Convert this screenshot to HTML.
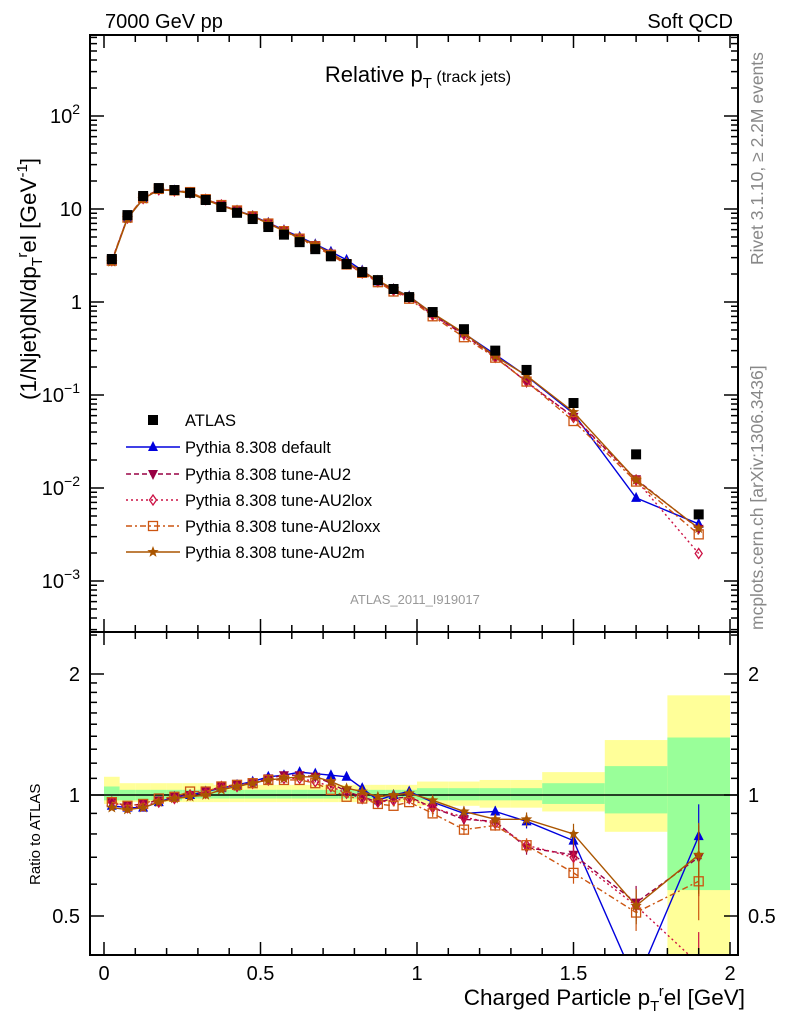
<!DOCTYPE html>
<html><head><meta charset="utf-8"><style>
body{margin:0;background:#fff;}
svg text{font-family:"Liberation Sans",sans-serif;}
</style></head><body>
<svg id="chart" width="786" height="1024" xmlns="http://www.w3.org/2000/svg">
<g id="bands"></g>
<g id="marks"></g>
<g id="axes"></g>
<text x="105" y="28" font-size="20">7000 GeV pp</text>
<text x="733" y="28" font-size="20" text-anchor="end">Soft QCD</text>
<text x="418" y="82" font-size="22" text-anchor="middle">Relative p<tspan font-size="15" dy="6">T</tspan><tspan font-size="16" dy="-6"> (track jets)</tspan></text>
<text x="415" y="604" font-size="13" fill="#999" text-anchor="middle">ATLAS_2011_I919017</text>
<text transform="translate(763,265) rotate(-90)" font-size="17.5" fill="#888">Rivet 3.1.10, ≥ 2.2M events</text>
<text transform="translate(763,630) rotate(-90)" font-size="17.5" fill="#888">mcplots.cern.ch [arXiv:1306.3436]</text>
<text transform="translate(36,400) rotate(-90)" font-size="22.5">(1/Njet)dN/dp<tspan font-size="15" dy="6">T</tspan><tspan font-size="15" dy="-15">r</tspan><tspan dy="9">el [GeV</tspan><tspan font-size="15" dy="-9">-1</tspan><tspan dy="9">]</tspan></text>
<text transform="translate(40,885) rotate(-90)" font-size="15">Ratio to ATLAS</text>
<text x="745" y="1005" font-size="22.5" text-anchor="end">Charged Particle p<tspan font-size="15" dy="6">T</tspan><tspan font-size="15" dy="-15">r</tspan><tspan dy="9">el [GeV]</tspan></text>
<g id="legend"></g>
</svg>
<script>
const xCenters=[0.025,0.075,0.125,0.175,0.225,0.275,0.325,0.375,0.425,0.475,0.525,0.575,0.625,0.675,0.725,0.775,0.825,0.875,0.925,0.975,1.05,1.15,1.25,1.35,1.5,1.7,1.9];
const binLo=[0,0.05,0.1,0.15,0.2,0.25,0.3,0.35,0.4,0.45,0.5,0.55,0.6,0.65,0.7,0.75,0.8,0.85,0.9,0.95,1.0,1.1,1.2,1.3,1.4,1.6,1.8];
const binHi=[0.05,0.1,0.15,0.2,0.25,0.3,0.35,0.4,0.45,0.5,0.55,0.6,0.65,0.7,0.75,0.8,0.85,0.9,0.95,1.0,1.1,1.2,1.3,1.4,1.6,1.8,2.0];
const atlas=[2.9,8.6,13.8,16.8,16,14.9,12.5,10.5,9.1,7.8,6.4,5.3,4.4,3.7,3.1,2.56,2.1,1.72,1.38,1.13,0.78,0.51,0.30,0.186,0.082,0.023,0.0052];
const statHi=[1.05,1.03,1.03,1.03,1.03,1.03,1.03,1.03,1.03,1.03,1.03,1.03,1.03,1.03,1.03,1.03,1.03,1.03,1.03,1.03,1.04,1.04,1.04,1.04,1.07,1.18,1.39];
const statLo=[0.97,0.97,0.97,0.97,0.97,0.98,0.98,0.98,0.98,0.98,0.98,0.98,0.98,0.98,0.98,0.98,0.98,0.98,0.98,0.98,0.97,0.97,0.97,0.97,0.95,0.90,0.58];
const totHi=[1.11,1.07,1.07,1.07,1.07,1.07,1.07,1.06,1.06,1.06,1.06,1.06,1.06,1.06,1.06,1.06,1.06,1.06,1.06,1.06,1.08,1.08,1.09,1.09,1.14,1.37,1.77];
const totLo=[0.95,0.96,0.96,0.96,0.96,0.96,0.96,0.96,0.96,0.96,0.96,0.96,0.96,0.96,0.96,0.96,0.96,0.96,0.96,0.96,0.94,0.94,0.93,0.93,0.91,0.81,0.38];
const rDefault=[0.94,0.93,0.93,0.96,0.99,1.0,1.02,1.04,1.06,1.08,1.11,1.12,1.14,1.13,1.12,1.11,1.04,0.97,1.0,1.02,0.96,0.90,0.91,0.86,0.77,0.34,0.79];
const rAU2=[0.96,0.94,0.95,0.97,0.99,1.0,1.02,1.05,1.06,1.07,1.10,1.12,1.12,1.11,1.07,1.02,0.99,0.96,0.98,0.99,0.93,0.87,0.86,0.74,0.71,0.54,0.70];
const rAU2lox=[0.96,0.93,0.94,0.96,0.98,1.0,1.01,1.05,1.05,1.07,1.09,1.10,1.10,1.08,1.05,1.01,0.98,0.96,0.97,0.98,0.93,0.88,0.85,0.75,0.70,0.53,0.38];
const rAU2loxx=[0.96,0.94,0.95,0.98,0.99,1.02,1.02,1.05,1.06,1.07,1.09,1.09,1.09,1.07,1.03,0.99,0.98,0.95,0.94,0.96,0.90,0.82,0.84,0.75,0.64,0.51,0.61];
const rAU2m=[0.93,0.92,0.93,0.96,0.98,0.99,1.0,1.03,1.05,1.07,1.09,1.10,1.11,1.11,1.08,1.04,1.02,0.99,1.0,1.01,0.97,0.91,0.87,0.87,0.80,0.53,0.71];
const relErr=[0,0,0,0,0,0,0,0,0,0,0,0,0,0,0,0,0,0,0,0,0.02,0.03,0.03,0.04,0.06,0.10,0.2];
const xTicks=[0,0.5,1,1.5,2];
const xTickLabels=["0","0.5","1","1.5","2"];

const NS="http://www.w3.org/2000/svg";
const L=90,R=738,T1=35,B1=632,T2=632,B2=955;
const xs=v=>104+v*313;
const ys=v=>302-93*Math.log10(v);
const yr=v=>795-121*Math.log2(v);
function mk(tag,attrs,parent){const e=document.createElementNS(NS,tag);for(const k in attrs)e.setAttribute(k,attrs[k]);parent.appendChild(e);return e;}
const bands=document.getElementById('bands'),marks=document.getElementById('marks'),axes=document.getElementById('axes'),legend=document.getElementById('legend');
const defs=mk('defs',{},document.getElementById('chart'));
const cp=mk('clipPath',{id:'rclip'},defs);mk('rect',{x:L,y:T2,width:R-L,height:B2-T2},cp);
const cp1=mk('clipPath',{id:'mclip'},defs);mk('rect',{x:L,y:T1,width:R-L,height:B1-T1},cp1);
bands.setAttribute('clip-path','url(#rclip)');
for(let i=0;i<xCenters.length;i++){
  const a=mk('rect',{x:xs(binLo[i]),y:yr(totHi[i]),width:xs(binHi[i])-xs(binLo[i]),height:yr(totLo[i])-yr(totHi[i]),fill:'#ffff99'},bands);
  
  
  const b=mk('rect',{x:xs(binLo[i]),y:yr(statHi[i]),width:xs(binHi[i])-xs(binLo[i]),height:yr(statLo[i])-yr(statHi[i]),fill:'#99ff99'},bands);
  
  
}
const one=mk('line',{x1:L,x2:R,y1:yr(1),y2:yr(1),stroke:'#000','stroke-width':1.5},bands);



function marker(type,x,y,c,g){
  if(type==='tri')return mk('polygon',{points:`${x},${y-6} ${x-5},${y+4} ${x+5},${y+4}`,fill:c},g);
  if(type==='tridn')return mk('polygon',{points:`${x},${y+6} ${x-5},${y-4} ${x+5},${y-4}`,fill:c},g);
  if(type==='dia')return mk('polygon',{points:`${x},${y-5} ${x-3.5},${y} ${x},${y+5} ${x+3.5},${y}`,fill:'none',stroke:c,'stroke-width':1.3},g);
  if(type==='sq')return mk('rect',{x:x-4.5,y:y-4.5,width:9,height:9,fill:'none',stroke:c,'stroke-width':1.3},g);
  if(type==='star'){let p=[];for(let k=0;k<10;k++){const r=k%2?2.5:6;const a=-Math.PI/2+k*Math.PI/5;p.push((x+r*Math.cos(a)).toFixed(1)+','+(y+r*Math.sin(a)).toFixed(1));}return mk('polygon',{points:p.join(' '),fill:c},g);}
  return mk('rect',{x:x-5,y:y-5,width:10,height:10,fill:c},g);
}
const series=[
 {name:'Pythia 8.308 default',r:rDefault,c:'#0000dd',dash:'',m:'tri',id:'default'},
 {name:'Pythia 8.308 tune-AU2',r:rAU2,c:'#990044',dash:'5,3',m:'tridn',id:'au2'},
 {name:'Pythia 8.308 tune-AU2lox',r:rAU2lox,c:'#cc1144',dash:'2,3',m:'dia',id:'au2lox'},
 {name:'Pythia 8.308 tune-AU2loxx',r:rAU2loxx,c:'#cc5511',dash:'6,3,2,3',m:'sq',id:'au2loxx'},
 {name:'Pythia 8.308 tune-AU2m',r:rAU2m,c:'#aa5500',dash:'',m:'star',id:'au2m'}
];
const gm=mk('g',{'clip-path':'url(#mclip)'},marks);
const gr=mk('g',{'clip-path':'url(#rclip)'},marks);
series.forEach(s=>{
  const vals=atlas.map((a,i)=>a*s.r[i]);
  const pl=mk('polyline',{points:vals.map((v,i)=>xs(xCenters[i])+','+ys(v)).join(' '),fill:'none',stroke:s.c,'stroke-width':1.4,'stroke-dasharray':s.dash},gm);
  
  
  const pr=mk('polyline',{points:s.r.map((v,i)=>xs(xCenters[i])+','+yr(v)).join(' '),fill:'none',stroke:s.c,'stroke-width':1.4,'stroke-dasharray':s.dash},gr);
  
  
  vals.forEach((v,i)=>{
    const e=relErr[i];
    if(e>0){const eb=mk('line',{x1:xs(xCenters[i]),x2:xs(xCenters[i]),y1:yr(s.r[i]*(1+e)),y2:yr(s.r[i]*(1-e)),stroke:s.c,'stroke-width':1.2},gr);
      
      }
    const p=marker(s.m,xs(xCenters[i]),ys(v),s.c,gm);
    
    
    const q=marker(s.m,xs(xCenters[i]),yr(s.r[i]),s.c,gr);
    
    
  });
});
atlas.forEach((v,i)=>{
  const p=marker('box',xs(xCenters[i]),ys(v),'#000',gm);
  
  
});
const ly=[420,447,474,500,526,552];
let lm=marker('box',153,ly[0],'#000',legend);


let lt=mk('text',{x:185,y:ly[0]+6,'font-size':16.5},legend);lt.textContent='ATLAS';


series.forEach((s,k)=>{
  const y=ly[k+1];
  const ln=mk('line',{x1:126,x2:180,y1:y,y2:y,stroke:s.c,'stroke-width':1.4,'stroke-dasharray':s.dash},legend);
  
  
  const m=marker(s.m,153,y,s.c,legend);
  
  
  const t=mk('text',{x:185,y:y+6,'font-size':16.5},legend);t.textContent=s.name;
  
  
});
[[T1,B1],[T2,B2]].forEach(([t,b],k)=>{
  const f=mk('rect',{x:L,y:t,width:R-L,height:b-t,fill:'none',stroke:'#000','stroke-width':2},axes);
  
  
  for(let v=0;v<=2.0001;v+=0.1){
    const major=Math.abs(v*2-Math.round(v*2))<1e-6;const len=major?13:7;const x=xs(v);
    mk('line',{x1:x,x2:x,y1:b,y2:b-len,stroke:'#000','stroke-width':1.5},axes);
    mk('line',{x1:x,x2:x,y1:t,y2:t+len,stroke:'#000','stroke-width':1.5},axes);
  }
});
xTicks.forEach((v,i)=>{const t=mk('text',{x:xs(v),y:980,'font-size':20,'text-anchor':'middle'},axes);t.textContent=xTickLabels[i];
 
 });
for(let d=-4;d<=2;d++){for(let m=1;m<10;m++){const v=m*Math.pow(10,d);const y=ys(v);if(y<T1||y>B1)continue;const len=m===1?14:7;
 mk('line',{x1:L,x2:L+len,y1:y,y2:y,stroke:'#000','stroke-width':1.5},axes);mk('line',{x1:R,x2:R-len,y1:y,y2:y,stroke:'#000','stroke-width':1.5},axes);}}
const yl=[[2,'10','2'],[1,'10',''],[0,'1',''],[-1,'10','−1'],[-2,'10','−2'],[-3,'10','−3']];
yl.forEach(([d,b,e])=>{const y=ys(Math.pow(10,d));const t=mk('text',{x:e?78:82,y:y+7,'font-size':20,'text-anchor':'end'},axes);
 t.textContent=b; if(e){const s=mk('tspan',{'font-size':14,dy:-9},t);s.textContent=e;t.setAttribute('x',80);}
 
 });
[0.4,0.5,0.6,0.7,0.8,0.9,1,1.1,1.2,1.3,1.4,1.5,1.6,1.7,1.8,1.9,2,2.5].forEach(v=>{const y=yr(v);if(y<T2||y>B2)return;const len=(v===0.5||v===1||v===2)?14:7;
 mk('line',{x1:L,x2:L+len,y1:y,y2:y,stroke:'#000','stroke-width':1.5},axes);mk('line',{x1:R,x2:R-len,y1:y,y2:y,stroke:'#000','stroke-width':1.5},axes);});
[[2,'2'],[1,'1'],[0.5,'0.5']].forEach(([v,s])=>{
 const a=mk('text',{x:80,y:yr(v)+7,'font-size':20,'text-anchor':'end'},axes);a.textContent=s;
 
 
 const b=mk('text',{x:748,y:yr(v)+7,'font-size':20},axes);b.textContent=s;
 
 });
</script>
</body></html>
